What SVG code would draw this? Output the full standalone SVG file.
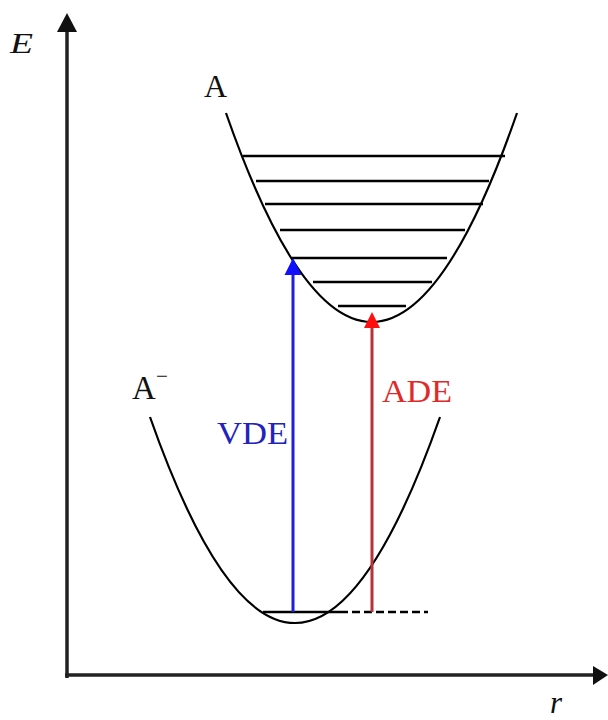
<svg xmlns="http://www.w3.org/2000/svg" width="608" height="720" viewBox="0 0 608 720">
<style>
.curve{fill:none;stroke:#000;stroke-width:2.2}
.lvl{stroke:#000;stroke-width:2.6}
.axis{stroke:#222;stroke-width:3.5;fill:none}
.lbl{font-family:"Liberation Serif","Times New Roman",serif;fill:#111}
</style>
<rect width="608" height="720" fill="#fff"/>
<g id="axes">
<line class="axis" x1="67" y1="678" x2="67" y2="30"/>
<polygon points="67,13 57,32 77,32" fill="#111"/>
<line class="axis" x1="65" y1="675" x2="594" y2="675"/>
<polygon points="608,675 593,666 593,685" fill="#111"/>
<text class="lbl" x="10" y="53" font-size="30" font-style="italic" textLength="23" lengthAdjust="spacingAndGlyphs">E</text>
<text class="lbl" x="550" y="713" font-size="31" font-style="italic">r</text>
</g>
<g id="neutral">
<path class="curve" d="M226,113 Q372,531 517,113"/>
<line class="lvl" x1="243" y1="156" x2="505" y2="156"/>
<line class="lvl" x1="256" y1="181" x2="489" y2="181"/>
<line class="lvl" x1="265" y1="204" x2="483" y2="204"/>
<line class="lvl" x1="280" y1="230" x2="465" y2="230"/>
<line class="lvl" x1="292" y1="258" x2="447" y2="258"/>
<line class="lvl" x1="313" y1="282" x2="432" y2="282"/>
<line class="lvl" x1="338" y1="306" x2="406" y2="306"/>
<text class="lbl" x="204" y="97" font-size="32">A</text>
</g>
<g id="anion">
<path class="curve" d="M150,417 Q295,829 440,417"/>
<line class="lvl" x1="263" y1="612" x2="340" y2="612"/>
<line class="lvl" x1="340" y1="612" x2="428" y2="612" stroke-dasharray="8,4"/>
<text class="lbl" x="132" y="399" font-size="33">A<tspan x="156" y="383" font-size="21">−</tspan></text>
</g>
<g id="connectors">
<g id="vde">
<line x1="293" y1="612" x2="293" y2="272" stroke="#1f1fd8" stroke-width="3"/>
<polygon points="293,258 284.5,275 301.5,275" fill="#1010ff"/>
<text class="lbl" x="217" y="444" font-size="32" style="fill:#2222c0" textLength="71" lengthAdjust="spacingAndGlyphs">VDE</text>
</g>
<g id="ade">
<line x1="372" y1="612" x2="372" y2="326" stroke="#b8323a" stroke-width="3"/>
<polygon points="372,312 364,328 380,328" fill="#ff1010"/>
<text class="lbl" x="382" y="402" font-size="32" style="fill:#e02a2a" textLength="70" lengthAdjust="spacingAndGlyphs">ADE</text>
</g>
</g>
</svg>
